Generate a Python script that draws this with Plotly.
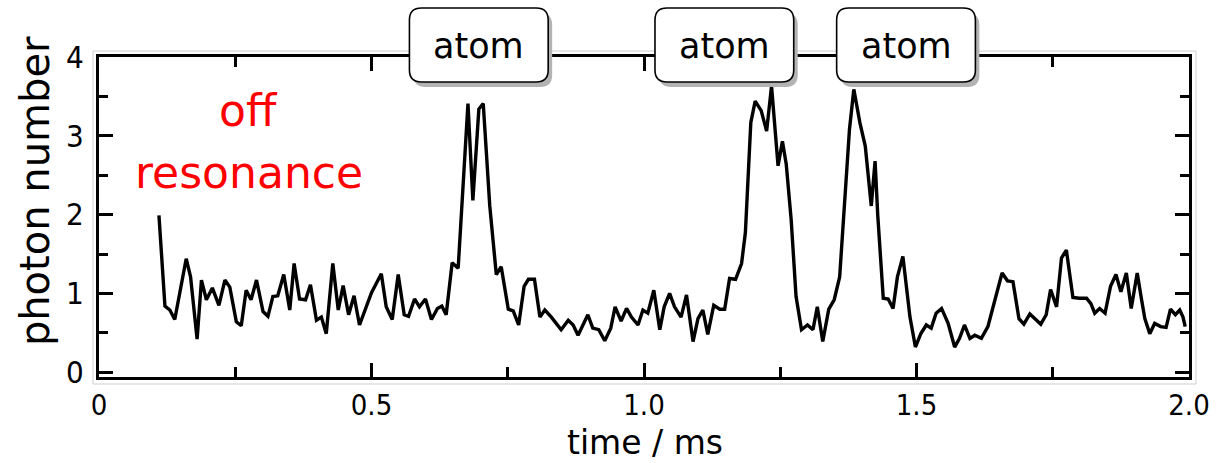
import plotly.graph_objects as go

# Photon-number trace (time in ms, mean photon number)
t_ms = [
    0.110, 0.121, 0.130, 0.139, 0.160, 0.168, 0.180, 0.188, 0.197, 0.208,
    0.220, 0.231, 0.240, 0.252, 0.261, 0.270, 0.279, 0.289, 0.301, 0.310,
    0.319, 0.328, 0.339, 0.350, 0.358, 0.368, 0.379, 0.388, 0.399, 0.408,
    0.417, 0.429, 0.439, 0.448, 0.458, 0.468, 0.478, 0.500, 0.518, 0.527,
    0.538, 0.549, 0.560, 0.568, 0.579, 0.588, 0.599, 0.610, 0.621, 0.629,
    0.637, 0.648, 0.659, 0.677, 0.686, 0.697, 0.705, 0.717, 0.729, 0.738,
    0.751, 0.760, 0.770, 0.780, 0.788, 0.799, 0.809, 0.818, 0.830, 0.848,
    0.861, 0.870, 0.879, 0.897, 0.906, 0.917, 0.928, 0.939, 0.947, 0.958,
    0.968, 0.977, 0.989, 0.998, 1.007, 1.018, 1.029, 1.037, 1.047, 1.056,
    1.068, 1.078, 1.090, 1.099, 1.108, 1.117, 1.128, 1.139, 1.148, 1.157,
    1.168, 1.179, 1.186, 1.191, 1.196, 1.204, 1.215, 1.225, 1.234, 1.246,
    1.254, 1.261, 1.270, 1.279, 1.289, 1.300, 1.310, 1.318, 1.328, 1.339,
    1.349, 1.359, 1.368, 1.377, 1.385, 1.396, 1.406, 1.417, 1.424, 1.429,
    1.439, 1.448, 1.457, 1.465, 1.475, 1.488, 1.498, 1.508, 1.518, 1.527,
    1.536, 1.546, 1.558, 1.570, 1.579, 1.588, 1.598, 1.607, 1.619, 1.631,
    1.644, 1.657, 1.667, 1.677, 1.688, 1.697, 1.708, 1.718, 1.728, 1.738,
    1.746, 1.757, 1.766, 1.775, 1.787, 1.799, 1.812, 1.820, 1.827, 1.836,
    1.846, 1.856, 1.866, 1.875, 1.885, 1.894, 1.905, 1.913, 1.919, 1.928,
    1.937, 1.948, 1.958, 1.966, 1.975, 1.983, 1.989, 1.993,
]
photons = [
    1.99, 0.84, 0.79, 0.67, 1.44, 1.21, 0.42, 1.17, 0.92, 1.07,
    0.85, 1.17, 1.08, 0.64, 0.59, 1.04, 0.92, 1.17, 0.77, 0.71,
    0.96, 0.97, 1.24, 0.79, 1.38, 0.93, 0.92, 1.11, 0.66, 0.70,
    0.49, 1.38, 0.79, 1.10, 0.73, 0.97, 0.60, 1.01, 1.25, 0.83,
    0.67, 1.24, 0.73, 0.71, 0.93, 0.83, 0.93, 0.67, 0.81, 0.84,
    0.73, 1.39, 1.32, 3.41, 2.18, 3.34, 3.41, 2.11, 1.24, 1.34,
    0.80, 0.78, 0.60, 1.09, 1.18, 1.18, 0.70, 0.79, 0.70, 0.54,
    0.66, 0.60, 0.47, 0.73, 0.56, 0.54, 0.40, 0.56, 0.83, 0.65,
    0.81, 0.70, 0.60, 0.79, 0.75, 1.04, 0.54, 0.83, 1.00, 0.83,
    0.70, 0.98, 0.39, 0.68, 0.79, 0.48, 0.85, 0.80, 0.80, 1.19,
    1.18, 1.38, 1.77, 2.45, 3.17, 3.44, 3.32, 3.06, 3.63, 2.62,
    2.93, 2.64, 1.94, 0.96, 0.54, 0.60, 0.54, 0.83, 0.39, 0.80,
    0.92, 1.21, 2.23, 3.08, 3.59, 3.17, 2.87, 2.11, 2.68, 1.98,
    0.94, 0.93, 0.81, 1.21, 1.47, 0.70, 0.32, 0.49, 0.60, 0.56,
    0.75, 0.81, 0.62, 0.32, 0.43, 0.60, 0.43, 0.47, 0.43, 0.58,
    0.92, 1.26, 1.16, 1.15, 0.68, 0.61, 0.74, 0.68, 0.61, 0.73,
    1.05, 0.83, 1.45, 1.55, 0.95, 0.94, 0.94, 0.87, 0.75, 0.81,
    0.75, 1.09, 1.24, 1.02, 1.26, 0.81, 1.26, 0.92, 0.68, 0.49,
    0.62, 0.58, 0.57, 0.80, 0.73, 0.79, 0.70, 0.58,
]

x_tick_vals = [0, 0.5, 1.0, 1.5, 2.0]
x_tick_text = ["0", "0.5", "1.0", "1.5", "2.0"]
y_tick_vals = [0, 1, 2, 3, 4]

x_title = "time / ms"
y_title = "photon number"
note_lines = ["off", "resonance"]
box_label = "atom"

# ---- page geometry (pixels) ----
W, H = 1222, 463
L, R, T, B = 99, 1191, 57, 377
PW, PH = R - L, B - T

TICK_FONT = "DejaVu Sans Condensed, DejaVu Sans, sans-serif"
TEXT_FONT = "DejaVu Sans, sans-serif"


def px_to_paper(x, y):
    return (x - L) / PW, (B - y) / PH


def rounded_rect(x0, y0, x1, y1, r):
    """SVG path (paper coords) for a rounded rectangle given in pixels."""
    def p(x, y):
        px, py = px_to_paper(x, y)
        return f"{px:.5f},{py:.5f}"

    parts = [
        "M" + p(x0 + r, y0),
        "L" + p(x1 - r, y0),
        "Q" + p(x1, y0) + " " + p(x1, y0 + r),
        "L" + p(x1, y1 - r),
        "Q" + p(x1, y1) + " " + p(x1 - r, y1),
        "L" + p(x0 + r, y1),
        "Q" + p(x0, y1) + " " + p(x0, y1 - r),
        "L" + p(x0, y0 + r),
        "Q" + p(x0, y0) + " " + p(x0 + r, y0),
        "Z",
    ]
    return " ".join(parts)


fig = go.Figure()
fig.add_trace(go.Scatter(
    x=t_ms, y=photons, mode="lines",
    line=dict(color="black", width=3.4),
    hoverinfo="skip", showlegend=False,
))

axis_common = dict(
    showline=True, linecolor="black", linewidth=3, mirror="ticks",
    ticks="inside", tickcolor="black", tickwidth=2.5,
    showgrid=False, zeroline=False,
)

fig.update_xaxes(
    range=[0, 2.0], tickvals=x_tick_vals, ticktext=x_tick_text,
    ticklen=14,
    tickfont=dict(family=TICK_FONT, size=29, color="black"),
    minor=dict(dtick=0.25, ticklen=10, tickwidth=2.5, tickcolor="black", ticks="inside"),
    **axis_common,
)
fig.update_yaxes(
    range=[-0.06, 4.0], tickvals=y_tick_vals,
    ticklen=14, ticklabelstandoff=6,
    tickfont=dict(family=TICK_FONT, size=31, color="black"),
    minor=dict(dtick=0.5, ticklen=9, tickwidth=2.5, tickcolor="black", ticks="inside"),
    **axis_common,
)

shapes = []
# faint scan border around the plot frame
bx0, by0 = px_to_paper(93, 384)
bx1, by1 = px_to_paper(1198, 51)
shapes.append(dict(type="rect", xref="paper", yref="paper",
                   x0=bx0, y0=by0, x1=bx1, y1=by1,
                   line=dict(color="#cfcfcf", width=1), layer="below"))

annotations = []
box_px = [(410, 549), (656, 795), (838, 977)]
for (xa, xb) in box_px:
    shapes.append(dict(type="path", xref="paper", yref="paper",
                       path=rounded_rect(xa + 4, 13, xb + 4, 87, 12),
                       fillcolor="#b3b3b3", line=dict(width=0), layer="above"))
    shapes.append(dict(type="path", xref="paper", yref="paper",
                       path=rounded_rect(xa, 8, xb, 82, 12),
                       fillcolor="white", line=dict(color="black", width=1.6),
                       layer="above"))
    cx, cy = px_to_paper((xa + xb) / 2, 46)
    annotations.append(dict(xref="paper", yref="paper", x=cx, y=cy,
                            text=box_label, showarrow=False,
                            font=dict(family=TEXT_FONT, size=35, color="black"),
                            xanchor="center", yanchor="middle"))

# red note
for line_txt, yc in zip(note_lines, [111, 172]):
    cx, cy = px_to_paper(249, yc)
    annotations.append(dict(xref="paper", yref="paper", x=cx, y=cy,
                            text=line_txt, showarrow=False,
                            font=dict(family=TEXT_FONT, size=44, color="#ff0000"),
                            xanchor="center", yanchor="middle"))

# axis titles
cx, cy = px_to_paper(646, 442)
annotations.append(dict(xref="paper", yref="paper", x=cx, y=cy, text=x_title,
                        showarrow=False, xanchor="center", yanchor="middle",
                        font=dict(family=TEXT_FONT, size=33, color="black")))
cx, cy = px_to_paper(35, 191)
annotations.append(dict(xref="paper", yref="paper", x=cx, y=cy, text=y_title,
                        showarrow=False, xanchor="center", yanchor="middle",
                        textangle=-90,
                        font=dict(family=TEXT_FONT, size=40, color="black")))

fig.update_layout(
    width=W, height=H,
    margin=dict(l=L, r=W - R, t=T, b=H - B),
    paper_bgcolor="white", plot_bgcolor="white",
    shapes=shapes, annotations=annotations,
    showlegend=False,
)

fig.write_html("out.html", config={"displayModeBar": False})
